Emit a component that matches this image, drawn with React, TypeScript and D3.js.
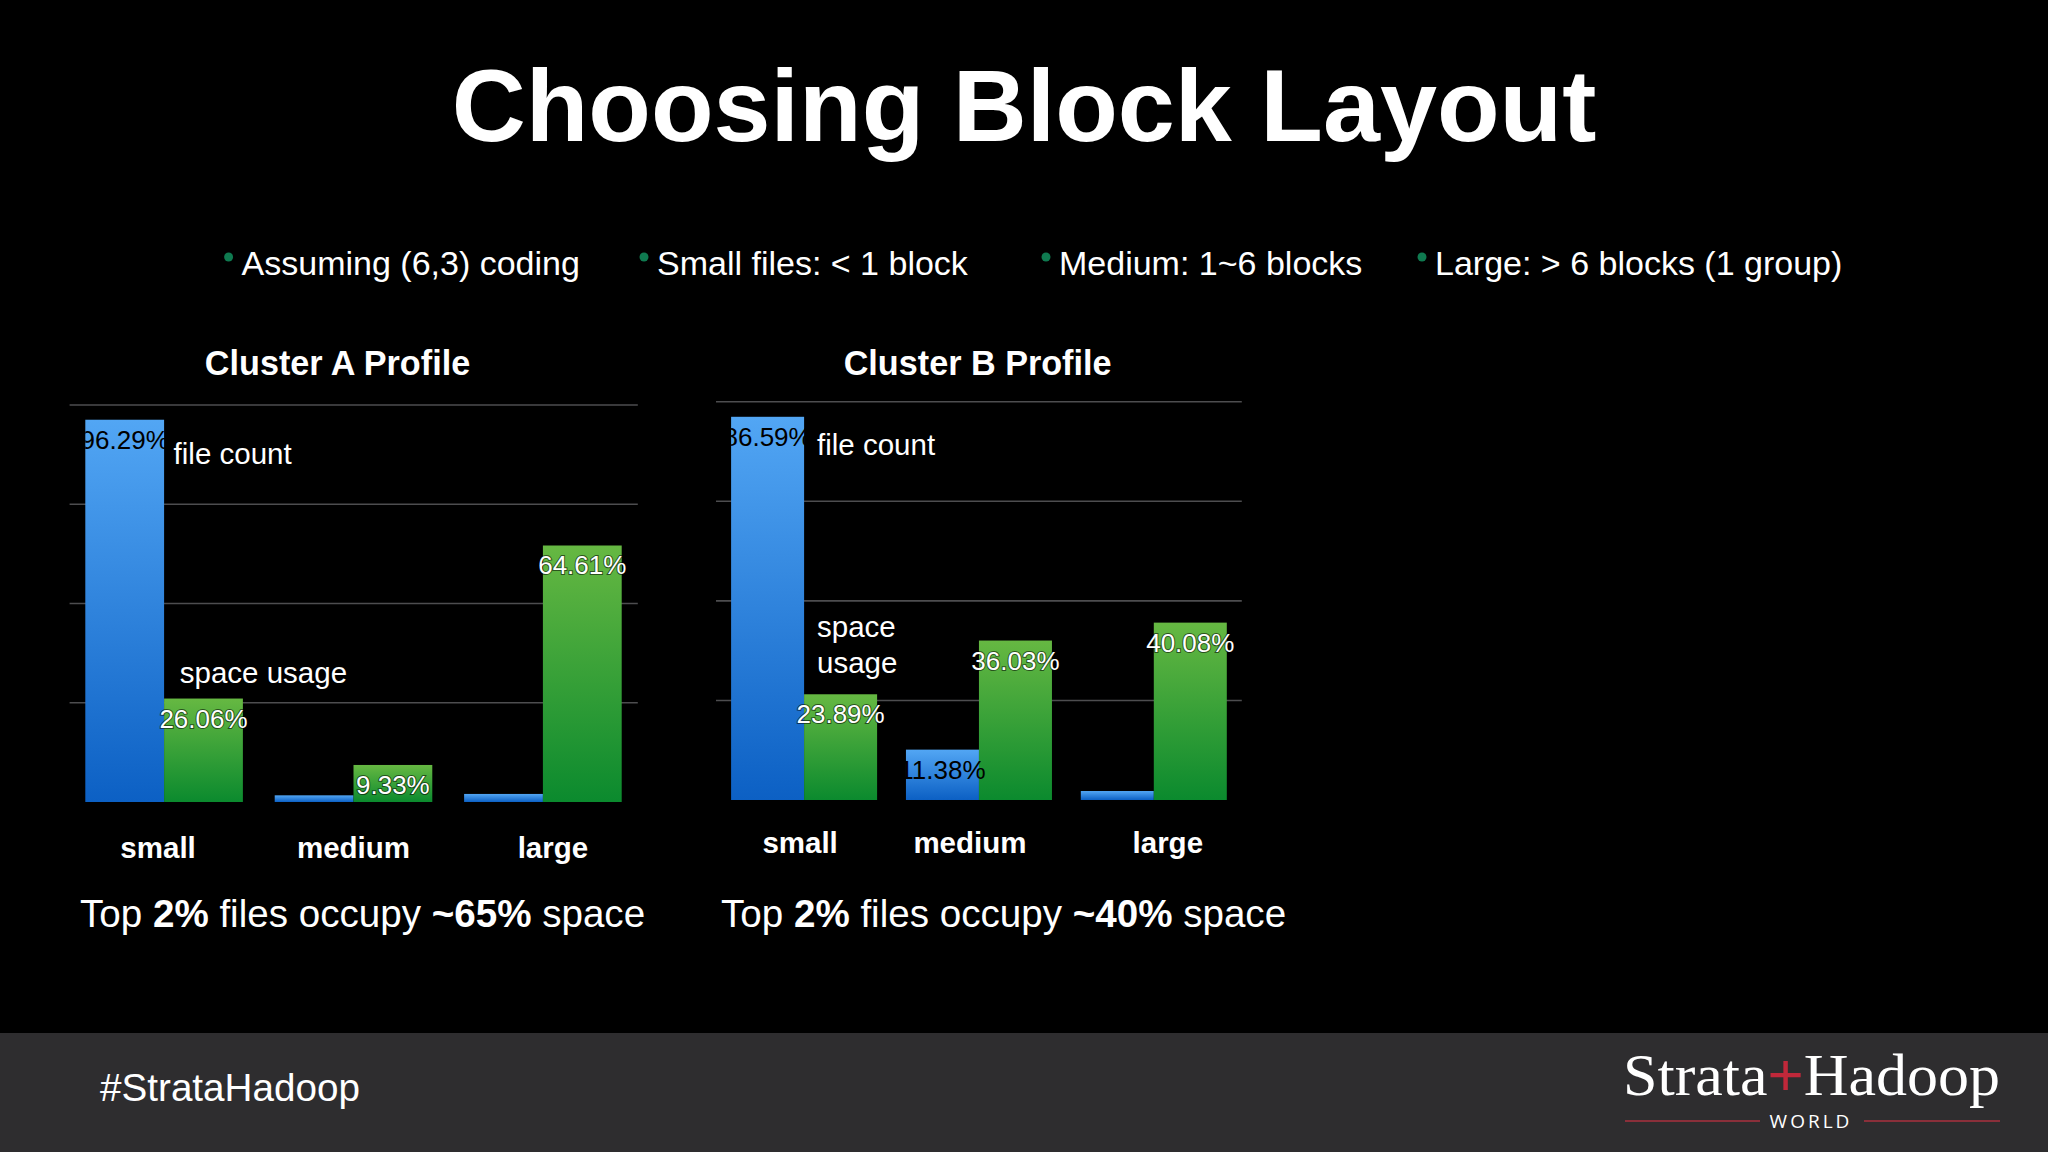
import React from "react";
import * as d3 from "d3";

const W = 2048;
const H = 1152;

const title = "Choosing Block Layout";
const bullets = ["Assuming (6,3) coding", "Small files: < 1 block", "Medium: 1~6 blocks", "Large: > 6 blocks (1 group)"];
const categories = ["small", "medium", "large"];
const seriesNames = ["file count", "space usage"];

const clusterATitle = "Cluster A Profile";
const clusterAFileCount = [96.29, 1.68, 2.03];
const clusterASpaceUsage = [26.06, 9.33, 64.61];
const clusterAGrid = [25, 50, 75, 100];

const clusterBTitle = "Cluster B Profile";
const clusterBFileCount = [86.59, 11.38, 2.03];
const clusterBSpaceUsage = [23.89, 36.03, 40.08];
const clusterBGrid = [22.5, 45, 67.5, 90];

const captionA = [["Top ", false], ["2%", true], [" files occupy ", false], ["~65%", true], [" space", false]] as [string, boolean][];
const captionB = [["Top ", false], ["2%", true], [" files occupy ", false], ["~40%", true], [" space", false]] as [string, boolean][];

const FONT = "'Liberation Sans', Arial, Helvetica, sans-serif";

type ChartCfg = {
  id: string;
  name: string;
  file: number[];
  space: number[];
  grid: number[];
  yMax: number;
  yTop: number;
  yBase: number;
  xStart: number;
  xEnd: number;
  gridX0: number;
  gridX1: number;
  padInner: number;
  titleX: number;
  catY: number;
  catDx: number[];
  fileLabel: { x: number; y: number };
  spaceLabel: { x: number; y: number; lines: string[] };
};

const charts: ChartCfg[] = [
  {
    id: "a",
    name: clusterATitle,
    file: clusterAFileCount,
    space: clusterASpaceUsage,
    grid: clusterAGrid,
    yMax: 100,
    yTop: 405,
    yBase: 802,
    xStart: 85.3,
    xEnd: 621.7,
    gridX0: 69.6,
    gridX1: 637.8,
    padInner: 0.168,
    titleX: 337.5,
    catY: 858,
    catDx: [-6, 0, 10],
    fileLabel: { x: 173.6, y: 464 },
    spaceLabel: { x: 179.8, y: 683, lines: ["space usage"] },
  },
  {
    id: "b",
    name: clusterBTitle,
    file: clusterBFileCount,
    space: clusterBSpaceUsage,
    grid: clusterBGrid,
    yMax: 90,
    yTop: 401.7,
    yBase: 800,
    xStart: 731.1,
    xEnd: 1226.8,
    gridX0: 716,
    gridX1: 1241.8,
    padInner: 0.165,
    titleX: 977.6,
    catY: 853,
    catDx: [-4, -9, 14],
    fileLabel: { x: 817, y: 455 },
    spaceLabel: { x: 817, y: 637, lines: ["space", "usage"] },
  },
];

function Chart({ c }: { c: ChartCfg }) {
  const y = d3.scaleLinear().domain([0, c.yMax]).range([c.yBase, c.yTop]);
  const x0 = d3.scaleBand<string>().domain(categories).range([c.xStart, c.xEnd]).paddingInner(c.padInner).paddingOuter(0);
  const x1 = d3.scaleBand<string>().domain(seriesNames).range([0, x0.bandwidth()]).padding(0);
  const bw = x1.bandwidth();
  const clipId = `clip-${c.id}`;
  return (
    <g>
      <defs>
        <clipPath id={clipId}>
          <rect x={c.xStart} y={c.yTop - 20} width={c.xEnd - c.xStart + 60} height={c.yBase - c.yTop + 20} />
        </clipPath>
      </defs>
      <text x={c.titleX} y={375} fill="#fff" fontFamily={FONT} fontWeight="bold" fontSize={34.2} textAnchor="middle">
        {c.name}
      </text>
      {c.grid.map((g) => (
        <line key={g} x1={c.gridX0} x2={c.gridX1} y1={y(g)} y2={y(g)} stroke="#4d4d4f" strokeWidth={1.6} />
      ))}
      {categories.map((cat, i) => {
        const gx = x0(cat)!;
        const fv = c.file[i];
        const sv = c.space[i];
        const fx = gx + x1(seriesNames[0])!;
        const sx = gx + x1(seriesNames[1])!;
        return (
          <g key={cat}>
            <rect x={fx} y={y(fv)} width={bw} height={c.yBase - y(fv)} fill="url(#blueGrad)" />
            <rect x={sx} y={y(sv)} width={bw} height={c.yBase - y(sv)} fill="url(#greenGrad)" />
          </g>
        );
      })}
      {categories.map((cat, i) => {
        const gx = x0(cat)!;
        const fv = c.file[i];
        const sv = c.space[i];
        const fx = gx + x1(seriesNames[0])!;
        const sx = gx + x1(seriesNames[1])!;
        return (
          <g key={cat + "l"}>
            <g clipPath={`url(#${clipId})`}>
              <text x={fx + bw / 2} y={y(fv) + 29} fill="#000" fontFamily={FONT} fontSize={26} textAnchor="middle">
                {fv.toFixed(2) + "%"}
              </text>
            </g>
            <text
              x={sx + bw / 2}
              y={y(sv) + 29}
              fill="#fff"
              stroke="rgba(0,0,0,0.55)"
              strokeWidth={2}
              paintOrder="stroke"
              fontFamily={FONT}
              fontSize={26}
              textAnchor="middle"
            >
              {sv.toFixed(2) + "%"}
            </text>
            <text
              x={gx + x0.bandwidth() / 2 + c.catDx[i]}
              y={c.catY}
              fill="#fff"
              fontFamily={FONT}
              fontWeight="bold"
              fontSize={29.5}
              textAnchor="middle"
            >
              {cat}
            </text>
          </g>
        );
      })}
      <text x={c.fileLabel.x} y={c.fileLabel.y} fill="#fff" fontFamily={FONT} fontSize={29.5}>
        {seriesNames[0]}
      </text>
      {c.spaceLabel.lines.map((ln, i) => (
        <text key={ln} x={c.spaceLabel.x} y={c.spaceLabel.y + i * 36} fill="#fff" fontFamily={FONT} fontSize={29.5}>
          {ln}
        </text>
      ))}
    </g>
  );
}

function Caption({ x, parts }: { x: number; parts: [string, boolean][] }) {
  return (
    <text x={x} y={927} fill="#fff" fontFamily={FONT} fontSize={38.6} xmlSpace="preserve">
      {parts.map(([t, b], i) => (
        <tspan key={i} fontWeight={b ? "bold" : "normal"}>
          {t}
        </tspan>
      ))}
    </text>
  );
}

export default function App() {
  const bulletX = [241.6, 657, 1059, 1435];
  return (
    <svg width={W} height={H} style={{ position: "absolute", left: 0, top: 0, display: "block" }}>
      <defs>
        <linearGradient id="blueGrad" x1="0" y1="0" x2="0" y2="1">
          <stop offset="0%" stopColor="#52a6f4" />
          <stop offset="100%" stopColor="#0c60c4" />
        </linearGradient>
        <linearGradient id="greenGrad" x1="0" y1="0" x2="0" y2="1">
          <stop offset="0%" stopColor="#66b842" />
          <stop offset="100%" stopColor="#0b8a2e" />
        </linearGradient>
      </defs>
      <rect x={0} y={0} width={W} height={H} fill="#000" />
      <text x={1024} y={141} fill="#fff" fontFamily={FONT} fontWeight="bold" fontSize={102.5} textAnchor="middle">
        {title}
      </text>
      {bullets.map((b, i) => (
        <g key={b}>
          <circle cx={bulletX[i] - 13} cy={257} r={4.5} fill="#0f7a50" />
          <text x={bulletX[i]} y={274.5} fill="#fff" fontFamily={FONT} fontSize={34}>
            {b}
          </text>
        </g>
      ))}
      {charts.map((c) => (
        <Chart key={c.id} c={c} />
      ))}
      <Caption x={80} parts={captionA} />
      <Caption x={721} parts={captionB} />
      <rect x={0} y={1033} width={W} height={H - 1033} fill="#2e2d2f" />
      <text x={100} y={1101} fill="#fff" fontFamily={FONT} fontSize={38} textLength={260} lengthAdjust="spacingAndGlyphs">
        #StrataHadoop
      </text>
      <text x={1623} y={1095} fill="#fff" fontFamily="'Liberation Serif', 'DejaVu Serif', serif" fontSize={60} textLength={377} lengthAdjust="spacingAndGlyphs" xmlSpace="preserve">
        <tspan>Strata</tspan>
        <tspan fill="#c0283a" fontFamily={FONT} fontWeight="300">+</tspan>
        <tspan>Hadoop</tspan>
      </text>
      <line x1={1625} x2={1760} y1={1121} y2={1121} stroke="#8a2f3a" strokeWidth={2} />
      <line x1={1864} x2={2000} y1={1121} y2={1121} stroke="#8a2f3a" strokeWidth={2} />
      <text x={1811} y={1127.5} fill="#fff" fontFamily="'Open Sans', 'DejaVu Sans', sans-serif" fontSize={19} letterSpacing={3} textAnchor="middle">
        WORLD
      </text>
    </svg>
  );
}
